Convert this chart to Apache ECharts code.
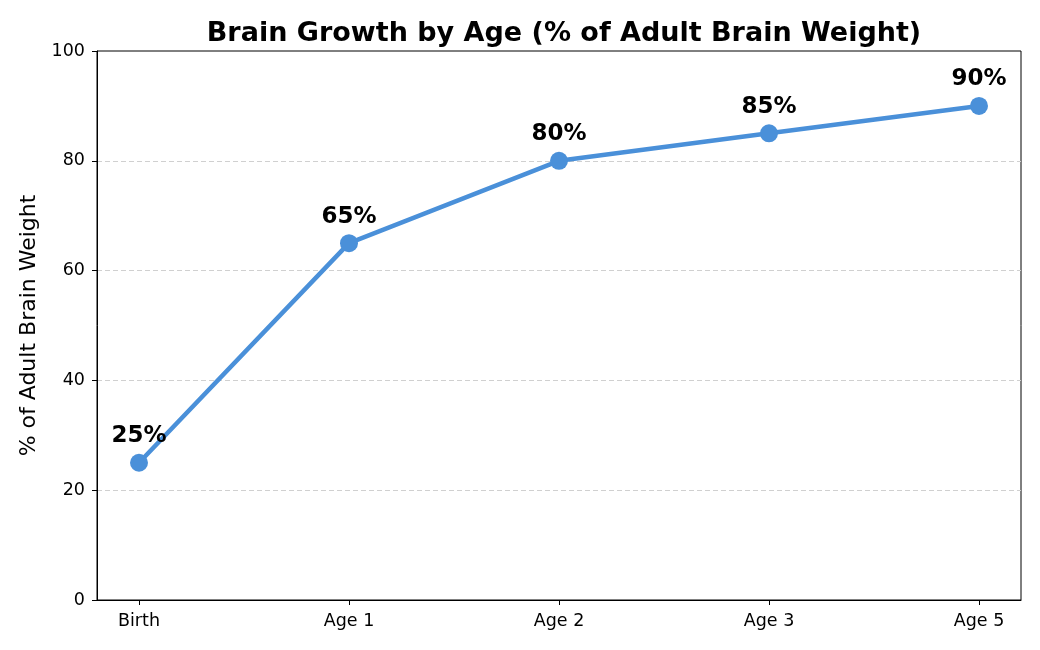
<!DOCTYPE html>
<html>
<head>
<meta charset="utf-8">
<script src="https://cdn.jsdelivr.net/npm/echarts@6/dist/echarts.min.js"></script>
<style>
  html, body { margin: 0; padding: 0; background: #fff; }
  #chart { width: 1040px; height: 650px; }
</style>
</head>
<body>
<div id="chart"></div>
<script>
const categories = ['Birth', 'Age 1', 'Age 2', 'Age 3', 'Age 5']
const brainWeight = [25, 65, 80, 85, 90]
const yTicks = [0, 20, 40, 60, 80, 100]

const chart = echarts.init(document.getElementById('chart'))
const font = 'DejaVu Sans'
const option = {
  animation: false,
  textStyle: { fontFamily: font },
  title: {
    text: 'Brain Growth by Age (% of Adult Brain Weight)',
    left: 559,
    textAlign: 'center',
    top: 15,
    textStyle: { fontFamily: font, fontSize: 27, fontWeight: 'bold', color: '#000' }
  },
  grid: {
    left: 97,
    right: 19,
    top: 51,
    bottom: 50,
    show: true,
    borderColor: '#000',
    borderWidth: 1
  },
  xAxis: {
    type: 'value',
    min: -0.2,
    max: categories.length - 1 + 0.2,
    splitLine: { show: false },
    axisLine: { lineStyle: { color: '#000', width: 1 } },
    axisTick: {
      show: true,
      length: 5,
      customValues: categories.map((c, i) => i),
      lineStyle: { color: '#000' }
    },
    axisLabel: {
      customValues: categories.map((c, i) => i),
      formatter: v => categories[Math.round(v)],
      color: '#000',
      fontFamily: font,
      fontSize: 17.5,
      margin: 12
    }
  },
  yAxis: {
    type: 'value',
    min: 0,
    max: 100,
    interval: 20,
    name: '% of Adult Brain Weight',
    nameLocation: 'middle',
    nameGap: 46,
    nameTextStyle: { fontFamily: font, fontSize: 22, color: '#000' },
    axisLine: { show: true, onZero: false, lineStyle: { color: '#000', width: 1 } },
    axisTick: { show: true, length: 5, lineStyle: { color: '#000' } },
    axisLabel: {
      color: '#000',
      fontFamily: font,
      fontSize: 17.5,
      margin: 12,
      formatter: v => yTicks.includes(v) ? String(v) : ''
    },
    splitLine: {
      show: true,
      showMinLine: false,
      showMaxLine: false,
      lineStyle: { color: '#d0d0d0', type: [5, 3], width: 1 }
    }
  },
  series: [
    {
      type: 'line',
      data: brainWeight.map((v, i) => [i, v]),
      symbol: 'circle',
      symbolSize: 18,
      itemStyle: { color: '#4a90d9' },
      lineStyle: { color: '#4a90d9', width: 4.5 },
      label: {
        show: true,
        position: 'top',
        distance: 6,
        formatter: p => p.value[1] + '%',
        fontFamily: font,
        fontSize: 23,
        fontWeight: 'bold',
        color: '#000'
      }
    }
  ]
}
chart.setOption(option)
</script>
</body>
</html>
